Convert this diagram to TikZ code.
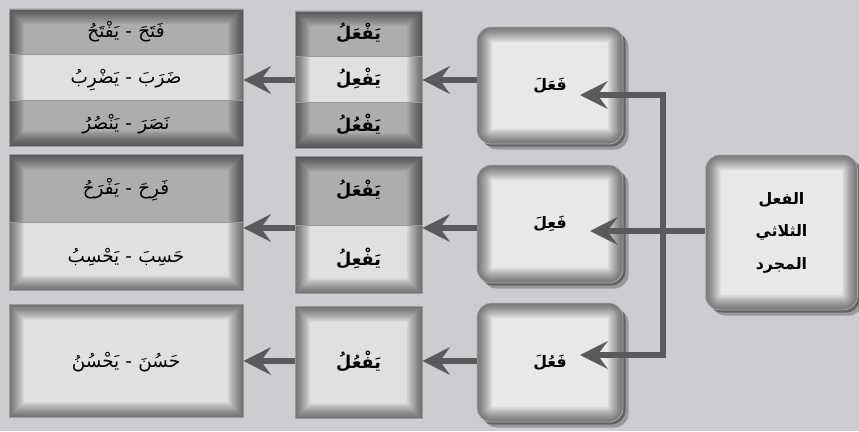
\documentclass[tikz,border=0pt]{standalone}
\usepackage{fontspec}
\newfontfamily\arabicfont[Script=Arabic]{DejaVu Sans}
\TeXXeTstate=1
\usepackage{tikz}
\usetikzlibrary{positioning, shapes.multipart, arrows.meta, shadows}
\definecolor{pagebg}{HTML}{CDCDD1}
\definecolor{bandd}{HTML}{ADADB0}
\definecolor{bandl}{HTML}{E0E0E2}
\definecolor{boxc}{HTML}{E8E8EA}
\definecolor{wirec}{HTML}{5A5A5C}
\newcommand{\ar}[1]{{\arabicfont\beginR #1\endR}}
\newcommand{\rw}[2][0.9cm]{\rule[\dimexpr 0.12cm-#1/2\relax]{0pt}{#1}\ar{#2}}
\tikzset{
  bevel/.style={path picture={
      \foreach \w in {1,...,22}
        \draw[black, opacity=0.028, line width=\w*0.8pt, rounded corners=#1]
          (path picture bounding box.south west) rectangle (path picture bounding box.north east);}},
  bevel/.default=0pt,
  conj/.style={rectangle split, rectangle split parts=#1, draw=black!40, bevel,
               font=\fontsize{10.5}{12}\selectfont, text width=4.68cm, align=center,
               inner xsep=0pt, inner ysep=0pt},
  wazn/.style={conj=#1, text width=2.54cm, font=\fontsize{10}{12}\selectfont\bfseries},
  past/.style={draw=black!30, fill=boxc, rounded corners=8pt, bevel=8pt,
               minimum width=2.92cm, minimum height=2.34cm,
               drop shadow={shadow xshift=0.05cm, shadow yshift=-0.05cm, opacity=0.35, fill=black},
               drop shadow={shadow xshift=0.11cm, shadow yshift=-0.11cm, opacity=0.25, fill=black},
               font=\fontsize{9}{12}\selectfont\bfseries},
  >={Stealth[length=5.5mm, width=5.5mm, inset=2mm]},
  flow/.style={->, line width=3pt, wirec},
  wire/.style={line width=3pt, wirec}
}
\begin{document}
\begin{tikzpicture}
  \fill[pagebg] (0,0) rectangle (17.18,-8.62);
  \useasboundingbox (0,0) rectangle (17.18,-8.62);
  % conjugated pairs
  \node[conj=3, rectangle split part fill={bandd,bandl,bandd}] (c1) at (2.52,-1.55) {\rw{فَتَحَ - يَفْتَحُ}\nodepart{two}\rw{ضَرَبَ - يَضْرِبُ}\nodepart{three}\rw{نَصَرَ - يَنْصُرُ}};
  \node[conj=2, rectangle split part fill={bandd,bandl}] (c2) at (2.52,-4.45) {\rw[1.35cm]{فَرِحَ - يَفْرَحُ}\nodepart{two}\rw[1.35cm]{حَسِبَ - يَحْسِبُ}};
  \node[conj=1, rectangle split part fill={bandl}] (c3) at (2.52,-7.22) {\rw[2.24cm]{حَسُنَ - يَحْسُنُ}};
  % present patterns
  \node[wazn=3, rectangle split part fill={bandd,bandl,bandd}] (w1) at (7.17,-1.59) {\rw{يَفْعَلُ}\nodepart{two}\rw{يَفْعِلُ}\nodepart{three}\rw{يَفْعُلُ}};
  \node[wazn=2, rectangle split part fill={bandd,bandl}] (w2) at (7.17,-4.5) {\rw[1.36cm]{يَفْعَلُ}\nodepart{two}\rw[1.36cm]{يَفْعِلُ}};
  \node[wazn=1, rectangle split part fill={bandl}] (w3) at (7.17,-7.25) {\rw[2.22cm]{يَفْعُلُ}};
  % past patterns
  \node[past] (f1) at (11.0,-1.71) {\ar{فَعَلَ}};
  \node[past, minimum height=2.36cm] (f2) at (11.0,-4.48) {\ar{فَعِلَ}};
  \node[past, minimum height=2.38cm] (f3) at (11.0,-7.25) {\ar{فَعُلَ}};
  \node[past, minimum width=3.04cm, minimum height=3.1cm, align=center,
        font=\fontsize{9}{18.5}\selectfont\bfseries] (root) at (15.63,-4.65) {\ar{الفعل}\\\ar{الثلاثي}\\\ar{المجرد}};
  % branches
  \coordinate (trunk) at (13.26,-4.64);
  \coordinate (inA) at (11.6,-1.9);
  \coordinate (inB) at (11.8,-4.62);
  \coordinate (inC) at (11.6,-7.1);
  \draw[wire, <->] (inA) -- (trunk |- inA) -- (trunk |- inC) -- (inC);
  \draw[flow] (root.west |- inB) -- (inB);
  \draw[flow] (f1.west |- 0,-1.6) -- (w1.east |- 0,-1.6);
  \draw[flow] (w1.west |- 0,-1.6) -- (c1.east |- 0,-1.6);
  \draw[flow] (f2.west |- 0,-4.56) -- (w2.east |- 0,-4.56);
  \draw[flow] (w2.west |- 0,-4.56) -- (c2.east |- 0,-4.56);
  \draw[flow] (f3.west |- 0,-7.22) -- (w3.east |- 0,-7.22);
  \draw[flow] (w3.west |- 0,-7.22) -- (c3.east |- 0,-7.22);
\end{tikzpicture}
\end{document}
